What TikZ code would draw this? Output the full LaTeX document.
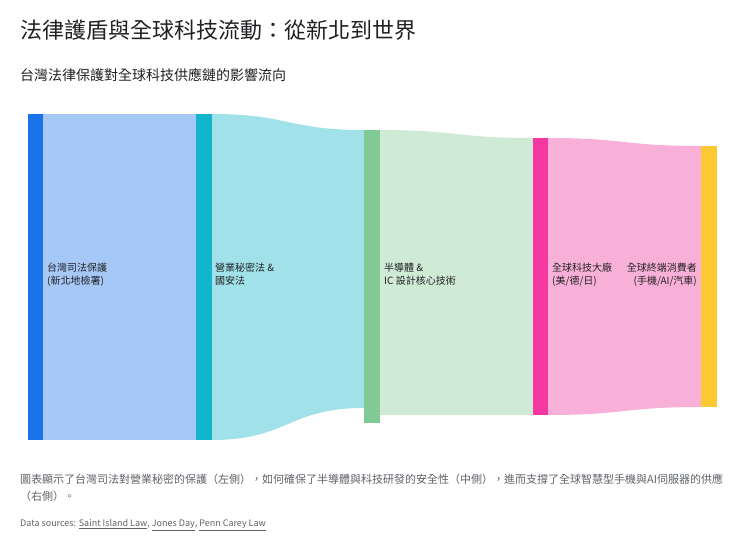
\documentclass[tikz,border=0pt]{standalone}
\usepackage{fontspec}
\setmainfont{Noto Sans CJK TC}
\definecolor{b1}{HTML}{1A73E8}\definecolor{f1}{HTML}{A6C8F6}
\definecolor{b2}{HTML}{12B5CB}\definecolor{f2}{HTML}{A1E2EA}
\definecolor{b3}{HTML}{81C995}\definecolor{f3}{HTML}{CFEAD5}
\definecolor{b4}{HTML}{F538A0}\definecolor{f4}{HTML}{F9B0D8}
\definecolor{b5}{HTML}{FCC934}
\definecolor{tx}{HTML}{202124}\definecolor{gr}{HTML}{5F6368}
\begin{document}
\begin{tikzpicture}[x=1pt,y=-1pt,
 lab/.style={anchor=north west,align=left,font=\fontsize{10}{13}\selectfont,text=tx,inner sep=0pt}]
\useasboundingbox[fill=white] (0,0) rectangle (740,544);
\node[anchor=west,inner sep=0pt,font=\fontsize{22}{24}\selectfont,text=tx] (title) at (20,30) {法律護盾與全球科技流動：從新北到世界};
\node[anchor=west,inner sep=0pt,font=\fontsize{14}{16}\selectfont,text=tx] (sub) at (20,75) {台灣法律保護對全球科技供應鏈的影響流向};
% flows
\fill[f1] (43,114) rectangle (196,440);
\fill[f2] (212,114) .. controls (288,114) and (288,130) .. (364,130) -- (364,408) .. controls (288,408) and (288,440) .. (212,440) -- cycle;
\fill[f3] (380,130) .. controls (456,130) and (456,138) .. (533,138) -- (533,415) -- (380,415) -- cycle;
\fill[f4] (548,138) .. controls (624,138) and (624,146) .. (701,146) -- (701,407) .. controls (624,407) and (624,415) .. (548,415) -- cycle;
% bars
\fill[b1] (28,114) rectangle (43,440);
\fill[b2] (196,114) rectangle (212,440);
\fill[b3] (364,130) rectangle (380,423);
\fill[b4] (533,138) rectangle (548,415);
\fill[b5] (701,146) rectangle (717,407);
\node[lab] (l1) at (47,263) {台灣司法保護\\(新北地檢署)};
\node[lab] (l2) at (215,263) {營業秘密法 \&\\國安法};
\node[lab] (l3) at (384,263) {半導體 \&\\IC 設計核心技術};
\node[lab] (l4) at (552,263) {全球科技大廠\\(美/德/日)};
\node[lab,anchor=north east,align=right] (l5) at (697,263) {全球終端消費者\\(手機/AI/汽車)};
\node[anchor=north west,align=left,inner sep=0pt,text=gr,font=\fontsize{11}{17}\selectfont] (cap) at (20,474) {圖表顯示了台灣司法對營業秘密的保護（左側），如何確保了半導體與科技研發的安全性（中側），進而支撐了全球智慧型手機與AI伺服器的供應\\（右側）。};
\node[anchor=west,inner sep=0pt,text=gr,font=\fontsize{9}{10}\selectfont] (src) at (20,525) {Data sources: \underline{Saint Island Law}, \underline{Jones Day}, \underline{Penn Carey Law}};
\end{tikzpicture}
\end{document}
